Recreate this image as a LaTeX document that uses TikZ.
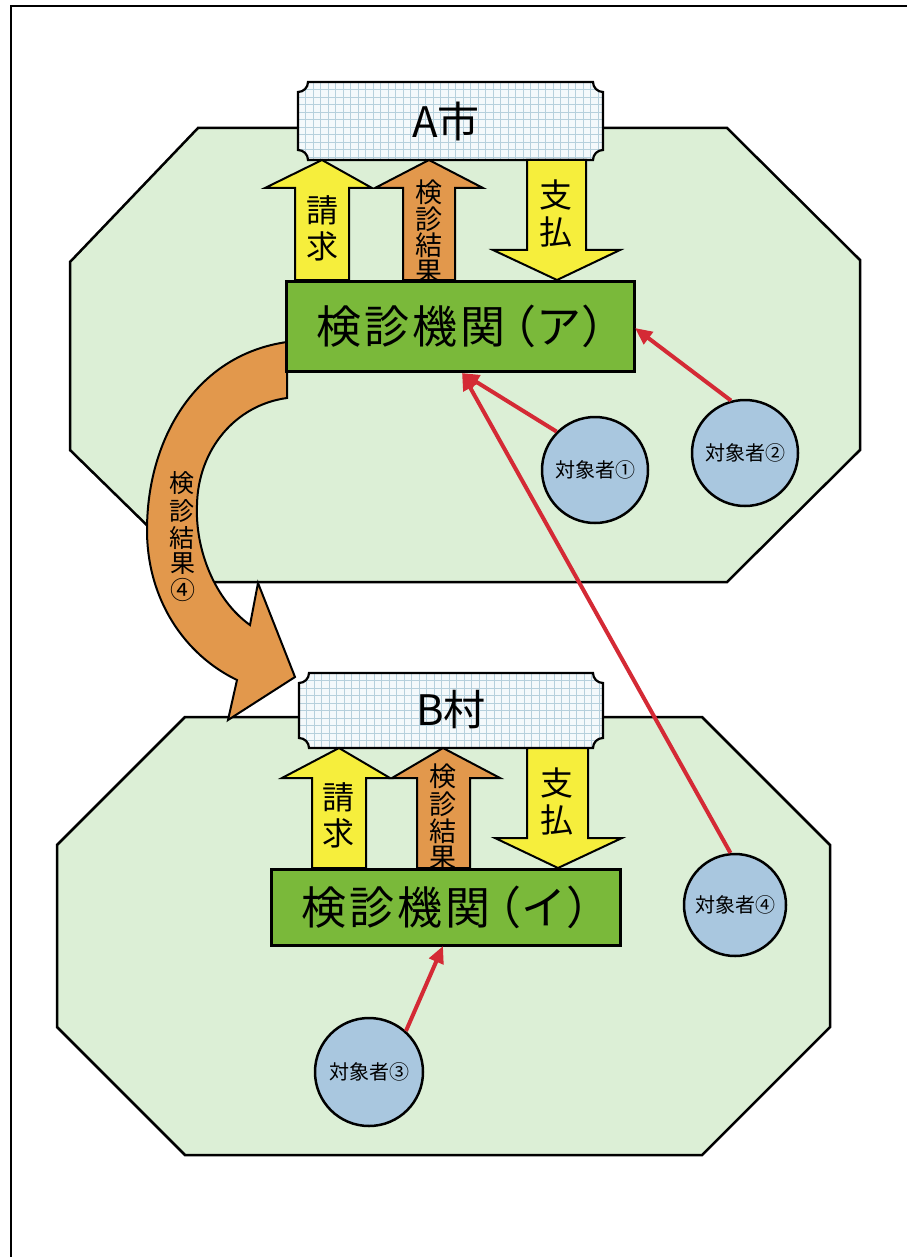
\documentclass[tikz,border=0pt]{standalone}
\usepackage{fontspec}
\newfontfamily\jp{Noto Sans CJK JP}
\usetikzlibrary{arrows.meta}
\definecolor{zone}{HTML}{DCEFD6}
\definecolor{gridbg}{HTML}{F4F9FB}
\definecolor{gridln}{HTML}{B6D0DC}
\definecolor{ylw}{HTML}{F6EE3C}
\definecolor{org}{HTML}{E2984C}
\definecolor{grn}{HTML}{7AB93A}
\definecolor{personfill}{HTML}{A9C7DF}
\definecolor{redl}{HTML}{D42A35}
\begin{document}
\begin{tikzpicture}[x=1pt,y=-1pt,
  zoneline/.style={draw=black, line width=2.5pt, fill=zone, line join=miter},
  signline/.style={draw=black, line width=2.2pt},
  flow/.style={draw=black, line width=2pt, line join=miter},
  kikan/.style={draw=black, line width=2.5pt, fill=grn, inner sep=0, anchor=north west},
  person/.style={circle, draw=black, line width=2.5pt, fill=personfill, inner sep=0, font=\jp\fontsize{20}{20}\selectfont},
  redarrow/.style={draw=redl, line width=4pt, -{Triangle[length=17pt,width=15pt]}},
  glyph/.style={inner sep=0, font=\jp\fontsize{#1}{#1}\selectfont},
  frame/.style={draw=black, line width=2.5pt}
]
\useasboundingbox (0,0) rectangle (907,1257);
\fill[white] (0,0) rectangle (907,1257);
% frame (left and top)
\draw[frame] (11,1257) -- (11,6) -- (907,6);

% zones
\draw[zoneline] (198,128) -- (727,128) -- (860,260) -- (860,450) -- (727,582) -- (205,582) -- (70,450) -- (70,262) -- cycle;
\draw[zoneline] (185,717) -- (702,717) -- (830,845) -- (830,1027) -- (702,1155) -- (185,1155) -- (57,1027) -- (57,845) -- cycle;

% curved arrow (result 4)
\draw[flow, fill=org] (287,342) .. controls (195,355) and (147,440) .. (147,530)
  .. controls (147,600) and (185,655) .. (237,680) -- (228,720) -- (295,677) -- (258,583) -- (250,625)
  .. controls (215,600) and (195,550) .. (197,505) .. controls (198,450) and (235,405) .. (287,398) -- cycle;
\node[glyph=25] (r41) at (182,483) {検};
\node[glyph=25] (r42) at (182,511) {診};
\node[glyph=25] (r43) at (182,538) {結};
\node[glyph=25] (r44) at (183,564) {果};
\node[glyph=25] (r45) at (183,590) {④};

% ---------- A city ----------
\begin{scope}
\clip (308,82) -- (593,82) .. controls (593,87.5) and (597.5,92) .. (603,92)
  -- (603,150) .. controls (597.5,150) and (593,154.5) .. (593,160)
  -- (308,160) .. controls (308,154.5) and (303.5,150) .. (298,150)
  -- (298,92) .. controls (303.5,92) and (308,87.5) .. (308,82) -- cycle;
\fill[gridbg] (290,75) rectangle (610,165);
\foreach \gx in {298,305.5,...,604} \draw[gridln, line width=0.6pt] (\gx,75) -- (\gx,165);
\foreach \gy in {82,89.5,...,161} \draw[gridln, line width=0.6pt] (290,\gy) -- (610,\gy);
\end{scope}
\draw[signline] (308,82) -- (593,82) .. controls (593,87.5) and (597.5,92) .. (603,92)
  -- (603,150) .. controls (597.5,150) and (593,154.5) .. (593,160)
  -- (308,160) .. controls (308,154.5) and (303.5,150) .. (298,150)
  -- (298,92) .. controls (303.5,92) and (308,87.5) .. (308,82) -- cycle;
\node[glyph=42] (cityA) at (446,122) {A市};

% arrows A
\draw[flow, fill=ylw] (295,280) -- (295,188) -- (265,188) -- (322,160) -- (372,188) -- (349,188) -- (349,280) -- cycle;
\draw[flow, fill=org] (403,280) -- (403,188) -- (375,188) -- (429,160) -- (483,188) -- (455,188) -- (455,280) -- cycle;
\draw[flow, fill=ylw] (527,160) -- (527,250) -- (493,250) -- (557,280) -- (620,250) -- (586,250) -- (586,160) -- cycle;
\node[glyph=32] (a11) at (322,210) {請};
\node[glyph=32] (a12) at (322,246) {求};
\node[glyph=27] (a21) at (429,192) {検};
\node[glyph=27] (a22) at (429,219) {診};
\node[glyph=27] (a23) at (429,245) {結};
\node[glyph=27] (a24) at (429,272) {果};
\node[glyph=33] (a31) at (556,195) {支};
\node[glyph=33] (a32) at (556,232) {払};

\node[kikan, minimum width=348pt, minimum height=90pt] (kikanA) at (285,280) {};
\node[glyph=45, anchor=west] (kikanAtxt) at (316.5,326) {検\kern3pt 診\kern3pt 機\kern3pt 関\kern-14pt（ア）};

% ---------- B village ----------
\begin{scope}
\clip (309,673) -- (593,673) .. controls (593,678.5) and (597.5,683) .. (603,683)
  -- (603,738) .. controls (597.5,738) and (593,742.5) .. (593,748)
  -- (309,748) .. controls (309,742.5) and (304.5,738) .. (299,738)
  -- (299,683) .. controls (304.5,683) and (309,678.5) .. (309,673) -- cycle;
\fill[gridbg] (290,665) rectangle (610,755);
\foreach \gx in {299,306.5,...,604} \draw[gridln, line width=0.6pt] (\gx,665) -- (\gx,755);
\foreach \gy in {673,680.5,...,749} \draw[gridln, line width=0.6pt] (290,\gy) -- (610,\gy);
\end{scope}
\draw[signline] (309,673) -- (593,673) .. controls (593,678.5) and (597.5,683) .. (603,683)
  -- (603,738) .. controls (597.5,738) and (593,742.5) .. (593,748)
  -- (309,748) .. controls (309,742.5) and (304.5,738) .. (299,738)
  -- (299,683) .. controls (304.5,683) and (309,678.5) .. (309,673) -- cycle;
\node[glyph=42] (villB) at (451,710) {B村};

% arrows B
\draw[flow, fill=ylw] (312,868) -- (312,778) -- (282,778) -- (339,748) -- (390,778) -- (366,778) -- (366,868) -- cycle;
\draw[flow, fill=org] (417,868) -- (417,778) -- (392,778) -- (443,748) -- (500,778) -- (470,778) -- (470,868) -- cycle;
\draw[flow, fill=ylw] (527,748) -- (527,838) -- (495,838) -- (558,868) -- (622,838) -- (588,838) -- (588,748) -- cycle;
\node[glyph=32] (b11) at (338,797) {請};
\node[glyph=32] (b12) at (338,833) {求};
\node[glyph=27] (b21) at (443,776) {検};
\node[glyph=27] (b22) at (443,804) {診};
\node[glyph=27] (b23) at (443,831) {結};
\node[glyph=27] (b24) at (443,858) {果};
\node[glyph=33] (b31) at (557,783) {支};
\node[glyph=33] (b32) at (557,820) {払};

\node[kikan, minimum width=349pt, minimum height=76pt] (kikanB) at (270,868) {};
\node[glyph=45, anchor=west] (kikanBtxt) at (301.5,907) {検\kern3pt 診\kern3pt 機\kern3pt 関\kern-14pt（イ）};

% persons
\node[person, minimum size=106pt] (p1) at (595,470) {対象者①};
\node[person, minimum size=106pt] (p2) at (745,453) {対象者②};
\node[person, minimum size=102pt] (p4) at (735,905) {対象者④};
\node[person, minimum size=108pt] (p3) at (369,1072) {対象者③};

\coordinate (tA) at (462,373);
\coordinate (tA2) at (635,328);
\coordinate (tB) at (443,946);

\draw[redarrow] (p1.135) -- (tA);
\draw[redarrow] (p4.95) -- (tA);
\draw[redarrow] (p2.105) -- (tA2);
\draw[redarrow] (p3.48) -- (tB);
\end{tikzpicture}
\end{document}
